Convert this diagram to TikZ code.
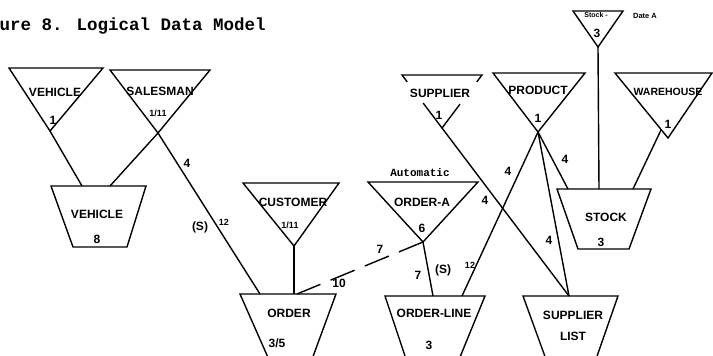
\documentclass[tikz,border=0pt]{standalone}
\usepackage{fontspec}
\setmainfont{Liberation Sans}
\newfontfamily\typefont{Liberation Mono}
\usetikzlibrary{calc}
\begin{document}
\begin{tikzpicture}[x=1pt,y=-1pt,line width=1.4pt,line join=miter,
  lbl/.style={font=\bfseries\fontsize{12}{12}\selectfont,inner sep=0pt},
  num/.style={font=\bfseries\fontsize{12}{12}\selectfont,inner sep=0pt},
  frac/.style={font=\bfseries\fontsize{9}{9}\selectfont,inner sep=0pt},
  tiny/.style={font=\bfseries\fontsize{7}{7}\selectfont,inner sep=0pt},
  typed/.style={font=\typefont\bfseries\fontsize{11}{11}\selectfont,inner sep=0pt},
  dashline/.style={dash pattern=on 26pt off 11pt}]
\useasboundingbox (0,0) rectangle (713,356);
\clip (0,0) rectangle (713,356);

% heading
\node[font=\typefont\bfseries\fontsize{17.5}{17.5}\selectfont,inner sep=0pt,anchor=base west]
  (title) at (-1,30.5) {ure 8. Logical Data Model};

% ---- record types (inverted triangles) ----
\coordinate (vehT-l) at (9,68);    \coordinate (vehT-r) at (103,68);  \coordinate (vehT-a) at (50,131);
\coordinate (salT-l) at (110,70);  \coordinate (salT-r) at (210,70);  \coordinate (salT-a) at (158,133);
\coordinate (cusT-l) at (243,183); \coordinate (cusT-r) at (339,183); \coordinate (cusT-a) at (294,246);
\coordinate (oaT-l) at (368,182);  \coordinate (oaT-r) at (478,182);  \coordinate (oaT-a) at (423,242);
\coordinate (supT-l) at (402,75);  \coordinate (supT-r) at (482,75);  \coordinate (supT-a) at (442,128);
\coordinate (proT-l) at (493,73);  \coordinate (proT-r) at (585,73);  \coordinate (proT-a) at (538,132);
\coordinate (sdT-l) at (573,11);   \coordinate (sdT-r) at (623,11);   \coordinate (sdT-a) at (598,47);
\coordinate (wahT-l) at (615,73);  \coordinate (wahT-r) at (712,73);  \coordinate (wahT-a) at (668,138);
\coordinate (wahT-p) at (661,130);

\draw (vehT-l) -- (vehT-r) -- (vehT-a) -- cycle;
\draw (salT-l) -- (salT-r) -- (salT-a) -- cycle;
\draw (cusT-l) -- (cusT-r) -- (cusT-a) -- cycle;
\draw (oaT-l) -- (oaT-r) -- (oaT-a) -- cycle;
\draw (proT-l) -- (proT-r) -- (proT-a) -- cycle;
\draw (sdT-l) -- (sdT-r) -- (sdT-a) -- cycle;
\draw (wahT-l) -- (wahT-r) -- (wahT-a) -- cycle;
% supplier triangle, sides broken by its name
\draw ($(supT-l)!0.13!(supT-a)$) -- (supT-l) -- (supT-r) -- ($(supT-r)!0.13!(supT-a)$);
\draw ($(supT-l)!0.53!(supT-a)$) -- (supT-a) -- ($(supT-r)!0.55!(supT-a)$);

% ---- data sets (trapezoids) ----
\coordinate (vehQ-tl) at (51,186);  \coordinate (vehQ-tr) at (146,186);
\coordinate (vehQ-br) at (127,247); \coordinate (vehQ-bl) at (73,247);
\coordinate (ordQ-tl) at (240,294); \coordinate (ordQ-tr) at (336,294);
\coordinate (ordQ-br) at (311,362); \coordinate (ordQ-bl) at (270,362);
\coordinate (olQ-tl) at (385,296);  \coordinate (olQ-tr) at (485,296);
\coordinate (olQ-br) at (458,362);  \coordinate (olQ-bl) at (407,362);
\coordinate (slQ-tl) at (523,296);  \coordinate (slQ-tr) at (618,296);
\coordinate (slQ-br) at (595,362);  \coordinate (slQ-bl) at (547,362);
\coordinate (stkQ-tl) at (557,189); \coordinate (stkQ-tr) at (651,189);
\coordinate (stkQ-br) at (629,249); \coordinate (stkQ-bl) at (578,249);

\draw (vehQ-tl) -- (vehQ-tr) -- (vehQ-br) -- (vehQ-bl) -- cycle;
\draw (ordQ-bl) -- (ordQ-tl) -- (ordQ-tr) -- (ordQ-br);
\draw (olQ-bl) -- (olQ-tl) -- (olQ-tr) -- (olQ-br);
\draw (slQ-bl) -- (slQ-tl) -- (slQ-tr) -- (slQ-br);
\draw (stkQ-tl) -- (stkQ-tr) -- (stkQ-br) -- (stkQ-bl) -- cycle;

% attachment points on the data sets
\coordinate (vehQ-a) at (82,186);  \coordinate (vehQ-b) at (110,186);
\coordinate (ordQ-a) at (260,294); \coordinate (ordQ-b) at (294,294); \coordinate (ordQ-c) at (297,294);
\coordinate (olQ-a) at (433,296);  \coordinate (olQ-b) at (462,296);
\coordinate (slQ-a) at (569,296);
\coordinate (stkQ-a) at (568,189); \coordinate (stkQ-b) at (599,189); \coordinate (stkQ-c) at (633,189);

% ---- access paths ----
\draw (vehT-a) -- (vehQ-a);
\draw (salT-a) -- (vehQ-b);
\draw (salT-a) -- (ordQ-a);
\draw (cusT-a) -- (ordQ-b);
\draw[dashline] (oaT-a) -- (ordQ-c);
\draw (oaT-a) -- (olQ-a);
\draw (supT-a) -- (slQ-a);
\draw (proT-a) -- (olQ-b);
\draw (proT-a) -- (slQ-a);
\draw (proT-a) -- (stkQ-a);
\draw (sdT-a) -- (stkQ-b);
\draw (wahT-p) -- (stkQ-c);

% ---- names and numbers ----
\node[lbl] (n-vehT) at (55,92) {VEHICLE};
\node[num] (c-vehT) at (53,120) {1};
\node[lbl] (n-salT) at (160,91) {SALESMAN};
\node[frac] (c-salT) at (158,113) {1/11};
\node[lbl] (n-cusT) at (293,202) {CUSTOMER};
\node[frac] (c-cusT) at (290,225) {1/11};
\node[typed] (n-auto) at (420,173) {Automatic};
\node[lbl] (n-oaT) at (422,202) {ORDER-A};
\node[num] (c-oaT) at (422,228) {6};
\node[lbl] (n-supT) at (440,93) {SUPPLIER};
\node[num] (c-supT) at (439,115) {1};
\node[lbl] (n-proT) at (538,90) {PRODUCT};
\node[num] (c-proT) at (538,118) {1};
\node[tiny] (n-sdT) at (596,15) {Stock -};
\node[tiny,font=\bfseries\fontsize{7.5}{7.5}\selectfont] (n-date) at (645,16) {Date A};
\node[num] (c-sdT) at (597,33) {3};
\node[lbl,font=\bfseries\fontsize{10.5}{10.5}\selectfont] (n-wahT) at (668,92) {WAREHOUSE};
\node[num] (c-wahT) at (668,124) {1};

\node[lbl] (n-vehQ) at (97,214) {VEHICLE};
\node[num] (c-vehQ) at (97,239) {8};
\node[lbl] (n-ordQ) at (289,313) {ORDER};
\node[num] (c-ordQ) at (277,343) {3/5};
\node[lbl] (n-olQ) at (434,313) {ORDER-LINE};
\node[num] (c-olQ) at (429,345) {3};
\node[lbl] (n-slQ) at (573,315) {SUPPLIER};
\node[lbl] (n-slQ2) at (573,336) {LIST};
\node[lbl] (n-stkQ) at (606,217) {STOCK};
\node[num] (c-stkQ) at (601,242) {3};

% ---- path labels ----
\node[num] (l-sal4) at (187,163) {4};
\node[num] (l-sals) at (200,227) {(S)};
\node[frac] (l-sal12) at (224,222) {12};
\node[num] (l-da7) at (380,249) {7};
\node[num] (l-da10) at (339,283) {10};
\node[num] (l-ol7) at (418,275) {7};
\node[num] (l-ols) at (443,270) {(S)};
\node[frac] (l-ol12) at (470,265) {12};
\node[num] (l-sup4) at (485,200) {4};
\node[num] (l-po4) at (508,171) {4};
\node[num] (l-ps4) at (565,159) {4};
\node[num] (l-psl4) at (549,240) {4};
\end{tikzpicture}
\end{document}
